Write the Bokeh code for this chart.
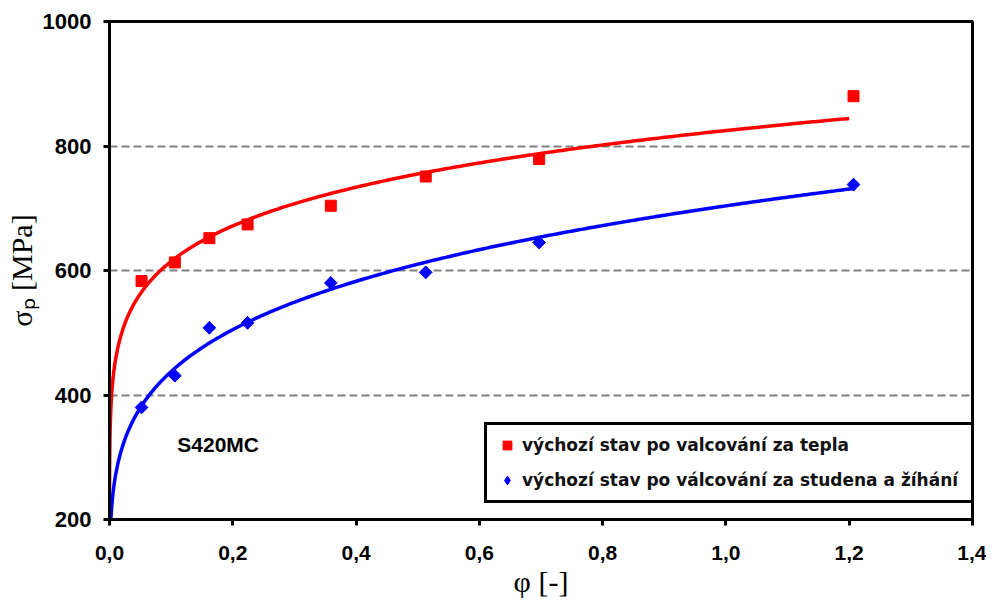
import numpy as np
from bokeh.plotting import figure
from bokeh.models import (Range1d, FixedTicker, Legend, LegendItem, Label)
from bokeh.embed import file_html
from bokeh.resources import INLINE

# ---- data ----
phi_red = [0.052, 0.106, 0.162, 0.224, 0.359, 0.513, 0.697, 1.207]
sig_red = [583, 613, 652, 674, 704, 751, 779, 880]
phi_blue = [0.052, 0.106, 0.162, 0.224, 0.359, 0.513, 0.697, 1.207]
sig_blue = [380, 431, 508, 516, 580, 597, 645, 738]

x_ticks = [0.0, 0.2, 0.4, 0.6, 0.8, 1.0, 1.2, 1.4]
x_tick_labels = ["0,0", "0,2", "0,4", "0,6", "0,8", "1,0", "1,2", "1,4"]
y_ticks = [200, 400, 600, 800, 1000]

label_red = "výchozí stav po valcování za tepla"
label_blue = "výchozí stav po válcování za studena a žíhání"
material = "S420MC"

# power-law trendlines fitted to the data (as the spreadsheet trendline)
def power_fit(x, y, xmax):
    b, a = np.polyfit(np.log(x), np.log(y), 1)
    xs = np.concatenate([np.geomspace(1e-7, 0.01, 200), np.linspace(0.01, xmax, 300)])
    return xs, np.exp(a) * xs ** b

xr, yr = power_fit(phi_red, sig_red, 1.2)
xb, yb = power_fit(phi_blue, sig_blue, 1.205)

p = figure(width=986, height=600, output_backend="svg", toolbar_location=None,
           x_range=Range1d(0, 1.4), y_range=Range1d(200, 1000),
           min_border_left=109, min_border_right=14, min_border_top=21,
           min_border_bottom=77)
p.background_fill_color = "white"
p.border_fill_color = "white"
p.outline_line_color = "black"
p.outline_line_alpha = 1.0
p.outline_line_width = 3

p.xgrid.grid_line_color = None
p.ygrid.grid_line_color = "#808080"
p.ygrid.grid_line_dash = "8 4"
p.ygrid.grid_line_width = 2

for ax in (p.xaxis[0], p.yaxis[0]):
    ax.axis_line_width = 3
    ax.axis_line_color = "black"
    ax.major_tick_line_width = 3
    ax.major_tick_line_color = "black"
    ax.major_tick_out = 6
    ax.major_tick_in = 0
    ax.minor_tick_line_color = None
    ax.major_label_text_font = "Liberation Sans"
    ax.major_label_text_font_style = "bold"
    ax.major_label_text_color = "black"
    ax.axis_label_text_font = "Liberation Serif"
    ax.axis_label_text_font_style = "normal"
    ax.axis_label_text_font_size = "30px"
    ax.axis_label_text_color = "black"

p.xaxis.ticker = FixedTicker(ticks=x_ticks)
p.xaxis.major_label_overrides = {t: s for t, s in zip(x_ticks, x_tick_labels)}
p.xaxis.major_label_text_font_size = "21px"
p.xaxis.major_label_standoff = 20
p.xaxis.axis_label = "φ [-]"
p.xaxis.axis_label_standoff = 2

p.yaxis.ticker = FixedTicker(ticks=y_ticks)
p.yaxis.major_label_text_font_size = "22px"
p.yaxis.major_label_standoff = 12
p.yaxis.axis_label = "σₚ [MPa]"
p.yaxis.axis_label_standoff = 2

p.line(xr, yr, line_color="#ff0000", line_width=3.5)
p.line(xb, yb, line_color="#0000ff", line_width=3.5)
r_red = p.scatter(phi_red, sig_red, marker="square", size=11, color="#ff0000")
# diamond glyph (used by the legend), covered by rotated squares drawn on top
r_blue_leg = p.scatter(phi_blue, sig_blue, marker="diamond", size=12.5, color="#0000ff")
r_blue = p.scatter(phi_blue, sig_blue, marker="square", size=9, angle=np.pi / 4,
                   color="#0000ff")

p.add_layout(Label(x=0.11, y=320, text=material, text_font="Liberation Sans",
                   text_font_style="bold", text_font_size="21px",
                   text_baseline="middle", text_color="black"))

legend = Legend(items=[LegendItem(label=label_red, renderers=[r_red]),
                       LegendItem(label=label_blue, renderers=[r_blue_leg])],
                location=(375, 16), orientation="vertical")
legend.border_line_color = "black"
legend.border_line_alpha = 1.0
legend.border_line_width = 3.5
legend.background_fill_color = "white"
legend.background_fill_alpha = 1
legend.label_text_font = "DejaVu Sans"
legend.label_text_font_style = "bold"
legend.label_text_font_size = "17px"
legend.label_text_color = "#111111"
legend.glyph_width = 22
legend.glyph_height = 22
legend.label_height = 22
legend.label_standoff = 4
legend.label_width = 440
legend.spacing = 13
legend.padding = 9
legend.margin = 0
p.add_layout(legend, "center")

open("out.html", "w").write(file_html(p, INLINE))
